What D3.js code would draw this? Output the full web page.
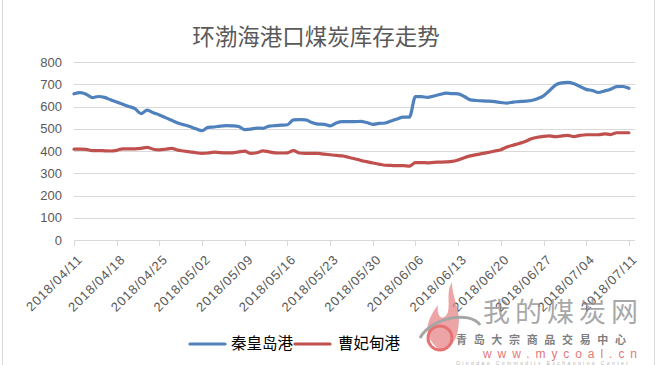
<!DOCTYPE html>
<html>
<head>
<meta charset="utf-8">
<script src="https://cdn.jsdelivr.net/npm/d3@7"></script>
<style>
  body { margin: 0; background: #fff; }
  svg { display: block; font-family: "Liberation Sans", Arial, sans-serif; }
</style>
</head>
<body>
<svg id="chart" width="658" height="365"></svg>
<script>
// daily stock (万吨), 2018/04/11 - 2018/07/11
const startDate = '2018-04-11';
const qinhuangdao = [
  657, 662, 655, 640, 645, 641, 630, 620, 610, 600, 590, 568, 584, 572, 562, 550,
  538, 526, 518, 510, 500, 492, 506, 508, 512, 514, 513, 510, 496, 498, 503, 502,
  512, 514, 516, 518, 540, 541, 540, 528, 521, 520, 513, 526, 532, 532, 532, 533,
  528, 520, 524, 526, 535, 544, 552, 552, 645, 644, 641, 647, 654, 660, 658, 657,
  645, 630, 627, 625, 624, 622, 618, 615, 620, 622, 624, 627, 635, 648, 672, 697,
  706, 708, 702, 690, 677, 672, 663, 670, 678, 689, 690, 682
];
const caofeidian = [
  408, 408, 407, 402, 402, 401, 400, 403, 410, 410, 410, 412, 416, 408, 405, 408,
  412, 404, 400, 396, 392, 389, 391, 395, 393, 392, 392, 396, 399, 389, 392, 401,
  396, 392, 391, 392, 402, 391, 389, 389, 389, 386, 383, 380, 378, 372, 365, 358,
  352, 346, 341, 336, 335, 334, 334, 332, 348, 348, 347, 349, 350, 351, 353, 360,
  370, 378, 384, 389, 394, 400, 406, 418, 426, 434, 443, 455, 462, 466, 468, 464,
  468, 470, 465, 470, 473, 473, 473, 477, 474, 482, 482, 482
];
const seriesNames = ['秦皇岛港', '曹妃甸港'];
const seriesColors = ['#4f81bd', '#c0504d'];
const yTicks = [0, 100, 200, 300, 400, 500, 600, 700, 800];
const xTickLabels = ['2018/04/11', '2018/04/18', '2018/04/25', '2018/05/02', '2018/05/09',
  '2018/05/16', '2018/05/23', '2018/05/30', '2018/06/06', '2018/06/13', '2018/06/20',
  '2018/06/27', '2018/07/04', '2018/07/11'];

const svg = d3.select('#chart');
const parse = d3.timeParse('%Y-%m-%d');
const parseLabel = d3.timeParse('%Y/%m/%d');
const t0 = parse(startDate);
const dates = qinhuangdao.map((_, i) => d3.timeDay.offset(t0, i));

// outer frame
svg.append('rect')
  .attr('x', 2.5).attr('y', -5).attr('width', 652).attr('height', 375)
  .attr('fill', 'none').attr('stroke', '#d9d9d9');

const x = d3.scaleTime()
  .domain([t0, d3.timeDay.offset(t0, 92)])
  .range([74, 635]);
const y = d3.scaleLinear().domain([0, 800]).range([240, 62]);

// title
svg.append('text')
  .attr('x', 316).attr('y', 45)
  .attr('text-anchor', 'middle')
  .attr('font-family', '"Noto Sans CJK SC", sans-serif')
  .attr('font-size', 22.5)
  .attr('fill', '#595959')
  .text('环渤海港口煤炭库存走势');

// grid + y labels
svg.append('g').selectAll('line')
  .data(yTicks.filter(d => d > 0))
  .enter().append('line')
  .attr('x1', 74).attr('x2', 635)
  .attr('y1', d => Math.round(y(d)) + 0.5).attr('y2', d => Math.round(y(d)) + 0.5)
  .attr('stroke', '#d9d9d9');

svg.append('g').selectAll('text')
  .data(yTicks)
  .enter().append('text')
  .attr('x', 62).attr('y', d => y(d))
  .attr('dy', '0.35em')
  .attr('text-anchor', 'end')
  .attr('font-size', 13)
  .attr('fill', '#595959')
  .text(d => d);

// x axis
const xAxis = svg.append('g');
xAxis.append('line')
  .attr('x1', 74).attr('x2', 635)
  .attr('y1', 240.5).attr('y2', 240.5)
  .attr('stroke', '#d9d9d9');
xAxis.selectAll('.tick')
  .data(xTickLabels)
  .enter().append('line')
  .attr('x1', d => Math.round(x(parseLabel(d))) + 0.5)
  .attr('x2', d => Math.round(x(parseLabel(d))) + 0.5)
  .attr('y1', 240).attr('y2', 246)
  .attr('stroke', '#d9d9d9');
xAxis.selectAll('text')
  .data(xTickLabels)
  .enter().append('text')
  .attr('transform', d => `translate(${x(parseLabel(d)) + 6},${257}) rotate(-45)`)
  .attr('text-anchor', 'end')
  .attr('dy', '0.35em')
  .attr('font-size', 13)
  .attr('letter-spacing', 0.9)
  .attr('fill', '#595959')
  .text(d => d);

// lines
const line = d3.line()
  .x((d, i) => x(dates[i]))
  .y(d => y(d))
  .curve(d3.curveMonotoneX);

[qinhuangdao, caofeidian].forEach((s, k) => {
  svg.append('path')
    .datum(s)
    .attr('d', line)
    .attr('fill', 'none')
    .attr('stroke', seriesColors[k])
    .attr('stroke-width', 3.2)
    .attr('stroke-linejoin', 'round')
    .attr('stroke-linecap', 'round');
});

// watermark
const wm = svg.append('g').attr('opacity', 0.75);
wm.append('path')
  .attr('d', 'M440,350 C420,335 428,318 438,305 C436,318 444,322 448,312 C450,300 446,292 452,282 C452,300 462,310 458,330 C456,342 450,348 440,350 Z')
  .attr('fill', '#e8868a');
wm.append('circle')
  .attr('cx', 440).attr('cy', 338).attr('r', 12)
  .attr('fill', 'none').attr('stroke', '#d44').attr('stroke-width', 3);
wm.append('path')
  .attr('d', 'M420,338 C430,318 470,310 480,325')
  .attr('fill', 'none').attr('stroke', '#888').attr('stroke-width', 3);
wm.append('text')
  .attr('x', 483).attr('y', 322)
  .attr('font-family', '"Noto Sans CJK SC", sans-serif')
  .attr('font-size', 27)
  .attr('textLength', 155)
  .attr('fill', '#8c8c8c')
  .text('我的煤炭网');
wm.append('text')
  .attr('x', 456).attr('y', 344)
  .attr('font-family', '"Noto Sans CJK SC", sans-serif')
  .attr('font-weight', 'bold')
  .attr('font-size', 11)
  .attr('textLength', 170)
  .attr('fill', '#555')
  .text('青岛大宗商品交易中心');
wm.append('text')
  .attr('x', 483).attr('y', 358)
  .attr('font-size', 12)
  .attr('textLength', 154)
  .attr('fill', '#d84a4a')
  .text('www.mycoal.cn');
wm.append('text')
  .attr('x', 456).attr('y', 364.5)
  .attr('font-size', 5)
  .attr('textLength', 172)
  .attr('fill', '#999')
  .text('Qingdao Commodity Exchanging Center');

// legend
const legendX = [190, 295];
seriesNames.forEach((name, k) => {
  const g = svg.append('g').attr('transform', `translate(${legendX[k]},344)`);
  g.append('line')
    .attr('x1', 0).attr('x2', 35)
    .attr('stroke', seriesColors[k]).attr('stroke-width', 3.2)
    .attr('stroke-linecap', 'round');
  g.append('text')
    .attr('x', k === 0 ? 41 : 43).attr('dy', '0.35em')
    .attr('font-family', '"Noto Sans CJK SC", sans-serif')
    .attr('font-size', 15.5)
    .attr('fill', '#000')
    .text(name);
});
</script>
</body>
</html>
